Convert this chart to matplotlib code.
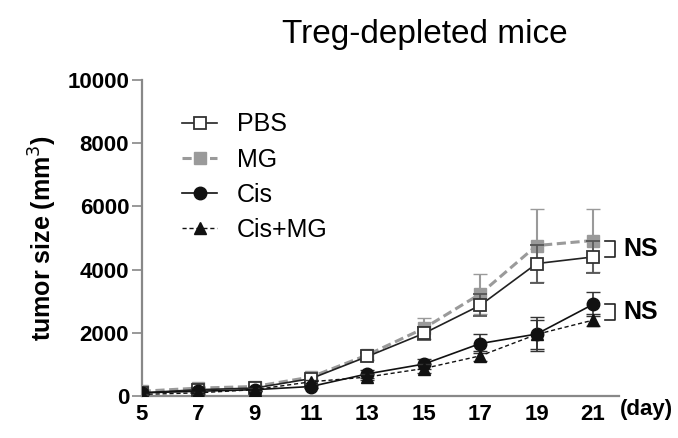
import matplotlib
matplotlib.use("Agg")
import matplotlib.pyplot as plt
from matplotlib.lines import Line2D

plt.rcParams['font.family'] = ['Liberation Sans', 'DejaVu Sans']

days = [5, 7, 9, 11, 13, 15, 17, 19, 21]
pbs = [100, 200, 250, 550, 1250, 1980, 2870, 4190, 4400]
pbs_err = [30, 40, 50, 80, 120, 200, 350, 600, 500]
mg = [150, 250, 300, 600, 1300, 2140, 3230, 4760, 4920]
mg_err = [40, 50, 60, 90, 150, 330, 620, 1150, 1000]
cis = [100, 150, 200, 300, 700, 1010, 1660, 1960, 2900]
cis_err = [30, 30, 40, 60, 120, 150, 300, 550, 380]
cismg = [50, 100, 200, 450, 600, 870, 1270, 1950, 2400]
cismg_err = [20, 30, 40, 60, 100, 130, 150, 450, 200]

fig = plt.figure(figsize=(6.78, 4.38), dpi=100)
ax = fig.add_axes([0.209, 0.0959, 0.704, 0.7215])

gray = '#9a9a9a'
styles = {
    'PBS': dict(color='#222222', ls='-', lw=1.2, marker='s', ms=9, mfc='white',
                mec='#333333', mew=1.3),
    'MG': dict(color=gray, ls=(0, (3, 1.5)), lw=2.2, marker='s', ms=9, mfc=gray,
               mec=gray, mew=1.0),
    'Cis': dict(color='#111111', ls='-', lw=1.2, marker='o', ms=9, mfc='#111111',
                mec='#111111', mew=1.0),
    'Cis+MG': dict(color='#111111', ls=(0, (3, 2)), lw=1.0, marker='^', ms=8,
                   mfc='#111111', mec='#111111', mew=1.0),
}

ax.errorbar(days, mg, yerr=mg_err, ecolor=gray, elinewidth=1.5,
            capsize=5, capthick=1.5, zorder=3, **styles['MG'])
ax.errorbar(days, pbs, yerr=pbs_err, ecolor='#555555',
            elinewidth=1.2, capsize=5, capthick=1.2, zorder=4, **styles['PBS'])
ax.errorbar(days, cis, yerr=cis_err, ecolor='#333333',
            elinewidth=1.2, capsize=5, capthick=1.2, zorder=5, **styles['Cis'])
ax.errorbar(days, cismg, yerr=cismg_err, ecolor='#333333',
            elinewidth=1.2, capsize=5, capthick=1.2, zorder=6, **styles['Cis+MG'])

ax.set_xlim(5, 21.92)
ax.set_ylim(0, 10000)
ax.set_xticks(days)
ax.set_xticklabels([str(d) for d in days], fontsize=16, fontweight='bold')
ax.set_yticks([0, 2000, 4000, 6000, 8000, 10000])
ax.set_yticklabels(['0', '2000', '4000', '6000', '8000', '10000'], fontsize=16, fontweight='bold')
ax.tick_params(axis='y', length=7, width=1.2, color='#888888', pad=2)
ax.tick_params(axis='x', length=0, pad=6)
for s in ['top', 'right']:
    ax.spines[s].set_visible(False)
for s in ['left', 'bottom']:
    ax.spines[s].set_color('#888888')
    ax.spines[s].set_linewidth(1.6)
ax.patch.set_alpha(0)

ax.set_ylabel('tumor size (mm$^3$)', fontsize=18, fontweight='bold', labelpad=6)
ax.text(21.95, -80, '(day)', fontsize=16, fontweight='bold', ha='left', va='top',
        transform=ax.transData, clip_on=False)

fig.text(425 / 678, 1 - 43 / 438, 'Treg-depleted mice', fontsize=24, ha='center',
         va='baseline')

# NS brackets
def bracket(y1, y2):
    x0, x1 = 21.42, 21.77
    ax.plot([x0, x1, x1, x0], [y1, y1, y2, y2], color='#222222', lw=1.2, clip_on=False)
    ax.text(22.06, (y1 + y2) / 2, 'NS', fontsize=18, fontweight='bold', ha='left',
            va='center', clip_on=False)

bracket(mg[-1], pbs[-1])
bracket(cis[-1], cismg[-1])

names = ['PBS', 'MG', 'Cis', 'Cis+MG']
handles = [Line2D([], [], **styles[n]) for n in names]
ax.legend(handles, names, loc='upper left', bbox_to_anchor=(0.064, 0.929),
          frameon=False, fontsize=18, handlelength=1.4, handletextpad=0.8,
          labelspacing=0.45, borderaxespad=0.0)

fig.savefig('out.png', dpi=100)
